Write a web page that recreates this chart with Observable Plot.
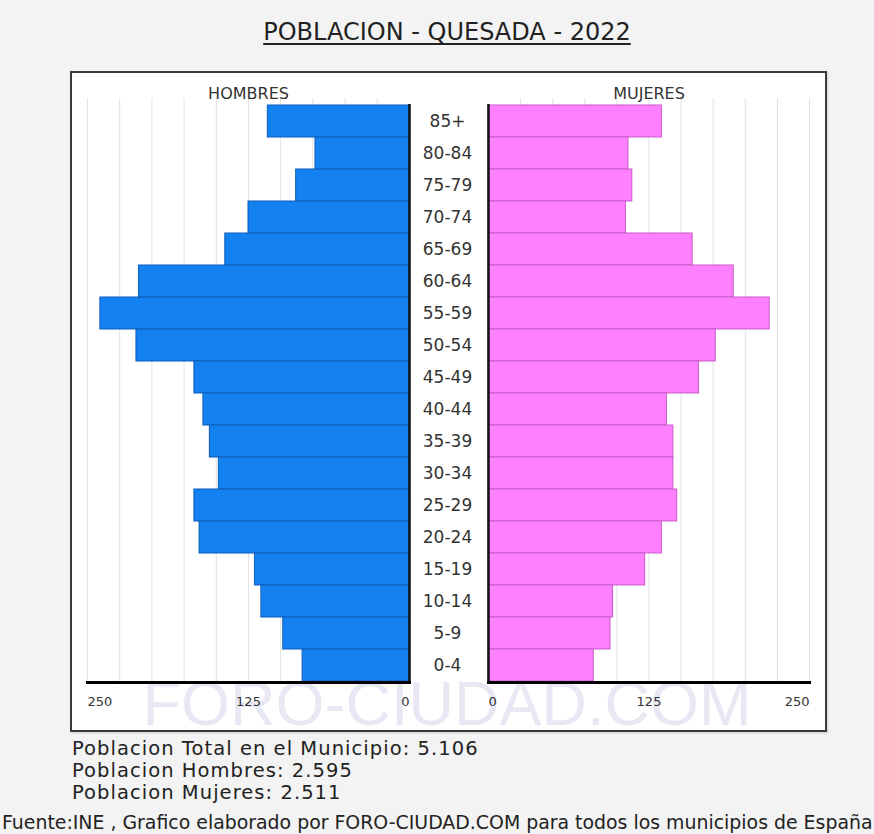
<!DOCTYPE html>
<html>
<head>
<meta charset="utf-8">
<script src="https://cdn.jsdelivr.net/npm/d3@7"></script>
<script src="https://cdn.jsdelivr.net/npm/@observablehq/plot@0.6"></script>
<style>
  html, body { margin: 0; padding: 0; background: #f3f3f3; }
  #page { position: relative; width: 874px; height: 834px; overflow: hidden; font-family: "DejaVu Sans", sans-serif; color: #222; }
  .abs { position: absolute; }
  #title { left: 0; width: 894px; top: 18px; font-size: 24px; line-height: 28px; text-align: center; text-decoration: underline; text-decoration-thickness: 2px; text-underline-offset: 3px; color: #222; white-space: nowrap; }
  #frame { left: 70px; top: 71px; width: 757px; height: 661px; box-sizing: border-box; border: 2px solid #3a3a3a; background: #fff; box-shadow: 1px 1px 2px rgba(0,0,0,0.15); }
  #wm { left: 97px; width: 700px; top: 672px; font-family: "Liberation Sans", Arial, sans-serif; font-size: 63px; line-height: 63px; text-align: center; color: #e8e8f4; white-space: nowrap; }
  .stat { left: 72px; font-size: 19.5px; line-height: 22px; letter-spacing: 1.05px; color: #222; white-space: nowrap; }
  #foot { left: 2px; top: 812px; font-size: 18.9px; line-height: 20px; color: #222; white-space: nowrap; }
</style>
</head>
<body>
<div id="page">
  <div id="title" class="abs"></div>
  <div id="frame" class="abs"></div>
  <div id="wm" class="abs"></div>
  <div id="left" class="abs" style="left:70px; top:71px;"></div>
  <div id="right" class="abs" style="left:470px; top:71px;"></div>
  <div id="s1" class="abs stat" style="top:738px;"></div>
  <div id="s2" class="abs stat" style="top:760px;"></div>
  <div id="s3" class="abs stat" style="top:782px;"></div>
  <div id="foot" class="abs"></div>
</div>
<script>
// ---- data ----
const titleText = "POBLACION - QUESADA - 2022";
const ages = ["85+","80-84","75-79","70-74","65-69","60-64","55-59","50-54","45-49","40-44","35-39","30-34","25-29","20-24","15-19","10-14","5-9","0-4"];
const hombres = [110, 73, 88, 125, 143, 210, 240, 212, 167, 160, 155, 148, 167, 163, 120, 115, 98, 83];
const mujeres = [135, 109, 112, 107, 159, 191, 219, 177, 164, 139, 144, 144, 147, 135, 122, 97, 95, 82];
const sideLabels = ["HOMBRES", "MUJERES"];
const axisTicks = [250, 125, 0];
const gridTicks = [25, 50, 75, 100, 125, 150, 175, 200, 225, 250];
const totalPop = "5.106";
const totalHombres = "2.595";
const totalMujeres = "2.511";
const watermark = "FORO-CIUDAD.COM";
const source = "Fuente:INE , Grafico elaborado por FORO-CIUDAD.COM para todos los municipios de España";

// ---- colours ----
const BLUE = "#1481f0", BLUE_EDGE = "#0c5cb8";
const PINK = "#ff80ff", PINK_EDGE = "#c85ac8";
const GRID = "#e2e2e2";
const TEXT = "#333";

const men = ages.map((a, i) => ({age: a, value: hombres[i]}));
const women = ages.map((a, i) => ({age: a, value: mujeres[i]}));

const common = {
  height: 660,
  marginTop: 33,
  marginBottom: 49,
  style: {background: "transparent", overflow: "visible", fontFamily: "DejaVu Sans, sans-serif"},
  y: {domain: ages, axis: null, padding: 0}
};

const tickText = (vals, anchor) => Plot.text(vals, {
  x: d => d, text: d => String(d), frameAnchor: "bottom", dy: 23,
  textAnchor: anchor, fontSize: 13, fill: TEXT
});

const left = Plot.plot({
  ...common,
  width: 418,
  marginLeft: 17,
  marginRight: 79,
  x: {domain: [0, 250], reverse: true, axis: null},
  marks: [
    Plot.ruleX(gridTicks, {stroke: GRID, strokeWidth: 1, insetTop: -6}),
    Plot.barX(men, {x: "value", y: "age", fill: BLUE, stroke: BLUE_EDGE, strokeWidth: 1}),
    Plot.ruleX([0], {stroke: "#111", strokeWidth: 2.5}),
    Plot.frame({anchor: "bottom", stroke: "#000", strokeWidth: 3}),
    Plot.text(men, {y: "age", text: "age", frameAnchor: "right", dx: 38, textAnchor: "middle", fontSize: 17, fill: TEXT}),
    Plot.text([sideLabels[0]], {x: [125], text: d => d, frameAnchor: "top", dy: -17, fontSize: 16, fill: TEXT}),
    tickText(axisTicks.filter(d => d === 250), "start"),
    tickText(axisTicks.filter(d => d === 125), "middle"),
    tickText(axisTicks.filter(d => d === 0), "end")
  ]
});

const right = Plot.plot({
  ...common,
  width: 356,
  marginLeft: 18,
  marginRight: 17,
  x: {domain: [0, 250], axis: null},
  marks: [
    Plot.ruleX(gridTicks, {stroke: GRID, strokeWidth: 1, insetTop: -6}),
    Plot.barX(women, {x: "value", y: "age", fill: PINK, stroke: PINK_EDGE, strokeWidth: 1}),
    Plot.ruleX([0], {stroke: "#111", strokeWidth: 2.5}),
    Plot.frame({anchor: "bottom", stroke: "#000", strokeWidth: 3}),
    Plot.text([sideLabels[1]], {x: [125], text: d => d, frameAnchor: "top", dy: -17, fontSize: 16, fill: TEXT}),
    tickText(axisTicks.filter(d => d === 0), "start"),
    tickText(axisTicks.filter(d => d === 125), "middle"),
    tickText(axisTicks.filter(d => d === 250), "end")
  ]
});

document.getElementById("left").appendChild(left);
document.getElementById("right").appendChild(right);
document.getElementById("title").textContent = titleText;
document.getElementById("wm").textContent = watermark;
document.getElementById("s1").textContent = "Poblacion Total en el Municipio: " + totalPop;
document.getElementById("s2").textContent = "Poblacion Hombres: " + totalHombres;
document.getElementById("s3").textContent = "Poblacion Mujeres: " + totalMujeres;
document.getElementById("foot").textContent = source;
</script>
</body>
</html>
